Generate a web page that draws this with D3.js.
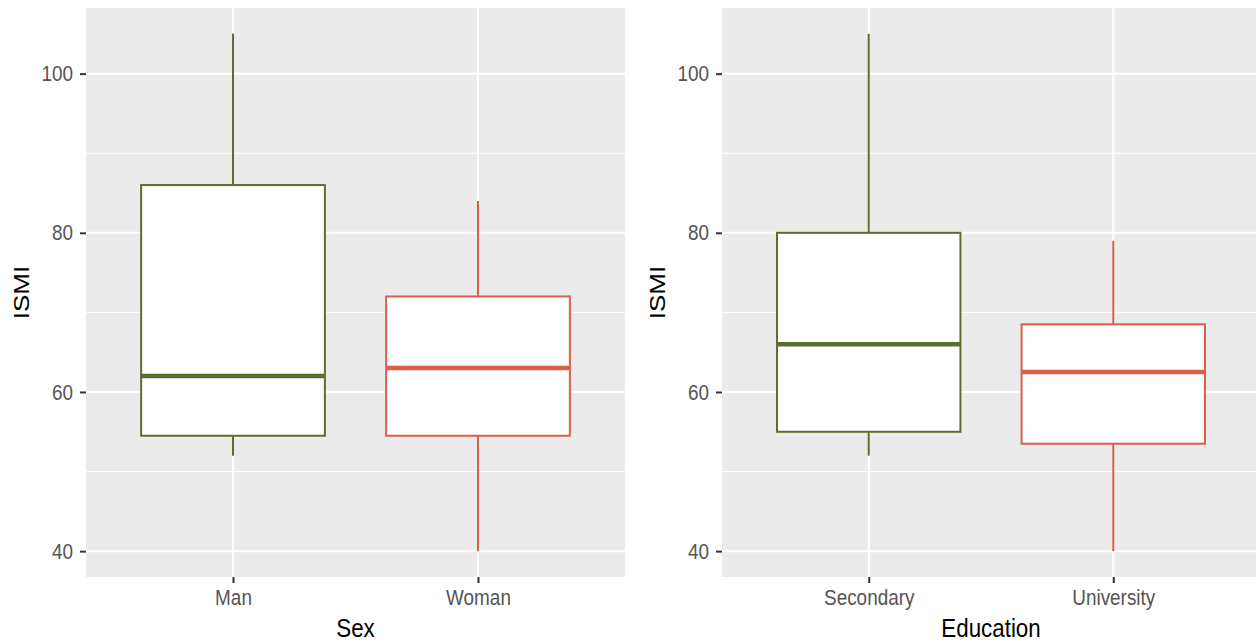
<!DOCTYPE html>
<html>
<head>
<meta charset="utf-8">
<script src="https://cdn.jsdelivr.net/npm/d3@7"></script>
<style>
  body { margin: 0; background: #fff; }
  svg { display: block; font-family: "Liberation Sans", Arial, sans-serif; }
</style>
</head>
<body>
<script>
// data: [lower whisker, Q1, median, Q3, upper whisker]
var sexCats = ["Man", "Woman"];
var sexStats = [
  [52, 54.5, 62, 86, 105],
  [40, 54.5, 63, 72, 84]
];
var eduCats = ["Secondary", "University"];
var eduStats = [
  [52, 55, 66, 80, 105],
  [40, 53.5, 62.5, 68.5, 79]
];
var yTicks = [40, 60, 80, 100];
var yMinor = [50, 70, 90];
var colors = ["#5b6d30", "#d6604a"];

var W = 1256, H = 644;
var panelTop = 8, panelBottom = 577;
var squeeze = 0.86; // the picture looks slightly narrowed

var svg = d3.select("body").append("svg")
    .attr("width", W)
    .attr("height", H);

// same y range for both panels (data 40..105 plus 5% expansion)
var y = d3.scaleLinear().domain([36.75, 108.25]).range([panelBottom, panelTop]);

function drawPanel(cats, stats, xTitle, left, right, yTitleX) {
  var x = d3.scalePoint().domain(cats).range([left, right]).padding(0.6);
  var step = x.step();
  var boxW = step * 0.75;

  var g = svg.append("g");

  // panel background
  g.append("rect")
    .attr("x", left).attr("y", panelTop)
    .attr("width", right - left).attr("height", panelBottom - panelTop)
    .attr("fill", "#ebebeb");

  // grid lines
  g.selectAll(".minor").data(yMinor).enter().append("line")
    .attr("x1", left).attr("x2", right)
    .attr("y1", function(d) { return y(d); })
    .attr("y2", function(d) { return y(d); })
    .attr("stroke", "#fff").attr("stroke-width", 1);
  g.selectAll(".major").data(yTicks).enter().append("line")
    .attr("x1", left).attr("x2", right)
    .attr("y1", function(d) { return y(d); })
    .attr("y2", function(d) { return y(d); })
    .attr("stroke", "#fff").attr("stroke-width", 2);
  g.selectAll(".vgrid").data(cats).enter().append("line")
    .attr("x1", function(d) { return x(d); })
    .attr("x2", function(d) { return x(d); })
    .attr("y1", panelTop).attr("y2", panelBottom)
    .attr("stroke", "#fff").attr("stroke-width", 2);

  // boxes
  var box = g.selectAll(".box").data(cats).enter().append("g");
  box.append("line")
    .attr("x1", function(d) { return x(d); })
    .attr("x2", function(d) { return x(d); })
    .attr("y1", function(d, i) { return y(stats[i][4]); })
    .attr("y2", function(d, i) { return y(stats[i][3]); })
    .attr("stroke", function(d, i) { return colors[i]; })
    .attr("stroke-width", 2);
  box.append("line")
    .attr("x1", function(d) { return x(d); })
    .attr("x2", function(d) { return x(d); })
    .attr("y1", function(d, i) { return y(stats[i][1]); })
    .attr("y2", function(d, i) { return y(stats[i][0]); })
    .attr("stroke", function(d, i) { return colors[i]; })
    .attr("stroke-width", 2);
  box.append("rect")
    .attr("x", function(d) { return x(d) - boxW / 2; })
    .attr("width", boxW)
    .attr("y", function(d, i) { return y(stats[i][3]); })
    .attr("height", function(d, i) { return y(stats[i][1]) - y(stats[i][3]); })
    .attr("fill", "#fff")
    .attr("stroke", function(d, i) { return colors[i]; })
    .attr("stroke-width", 2);
  box.append("line")
    .attr("x1", function(d) { return x(d) - boxW / 2; })
    .attr("x2", function(d) { return x(d) + boxW / 2; })
    .attr("y1", function(d, i) { return y(stats[i][2]); })
    .attr("y2", function(d, i) { return y(stats[i][2]); })
    .attr("stroke", function(d, i) { return colors[i]; })
    .attr("stroke-width", 4.5);

  // axes
  var ya = g.append("g")
    .attr("transform", "translate(" + left + ",0)")
    .call(d3.axisLeft(y).tickValues(yTicks).tickSize(6).tickPadding(9));
  var xa = g.append("g")
    .attr("transform", "translate(0," + panelBottom + ")")
    .call(d3.axisBottom(x).tickSize(6).tickPadding(6));
  [ya, xa].forEach(function(a) {
    a.select(".domain").remove();
    a.selectAll(".tick line").attr("stroke", "#333").attr("stroke-width", 2);
    a.selectAll(".tick text")
      .attr("fill", "#555")
      .style("font-size", "22px")
      .style("font-family", "'Liberation Sans', Arial, sans-serif")
      .attr("transform", "scale(" + squeeze + ",1)");
  });

  // axis titles
  g.append("text")
    .attr("transform", "translate(" + ((left + right) / 2) + "," + 637 + ") scale(" + squeeze + ",1)")
    .attr("text-anchor", "middle")
    .style("font-size", "26px")
    .attr("fill", "#000")
    .text(xTitle);
  g.append("text")
    .attr("transform", "translate(" + yTitleX + "," + ((panelTop + panelBottom) / 2) + ") scale(" + squeeze + ",1) rotate(-90)")
    .attr("text-anchor", "middle")
    .style("font-size", "26px")
    .attr("fill", "#000")
    .text("ISMI");
}

drawPanel(sexCats, sexStats, "Sex", 86, 625, 29);
drawPanel(eduCats, eduStats, "Education", 722, 1260, 665);
</script>
</body>
</html>
